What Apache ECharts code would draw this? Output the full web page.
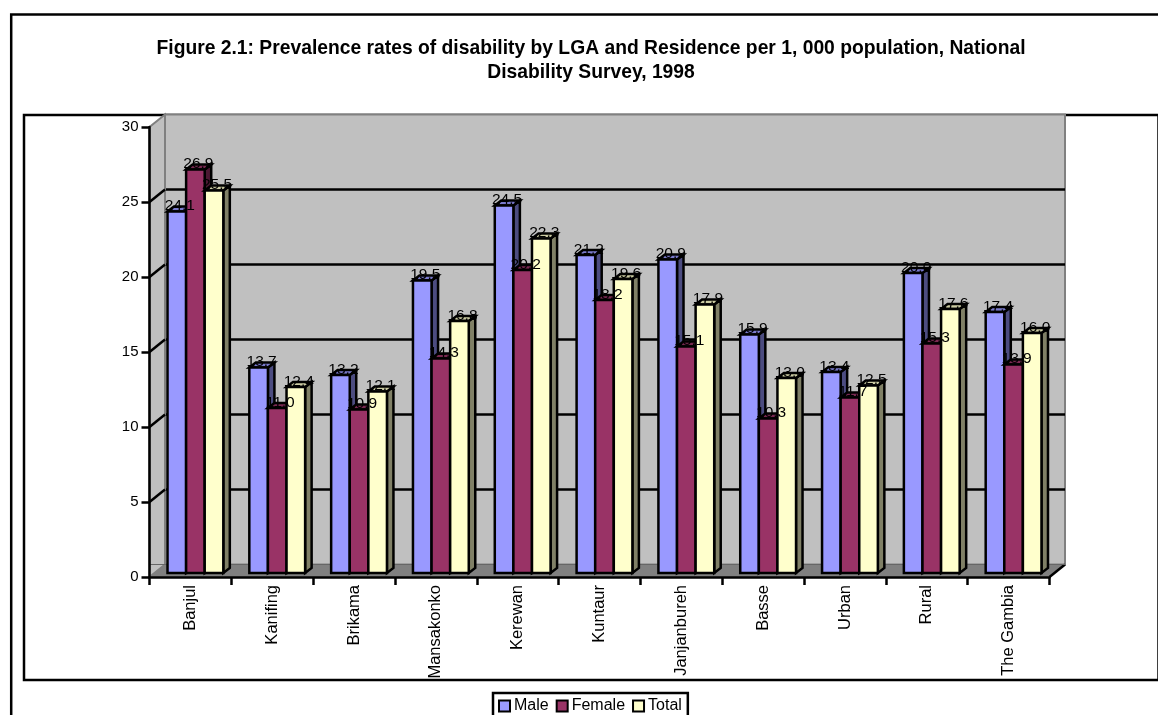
<!DOCTYPE html>
<html><head><meta charset="utf-8">
<style>html,body{margin:0;padding:0;background:#fff}#c{width:1158px;height:715px}</style>
<script src="https://cdn.jsdelivr.net/npm/echarts@6/dist/echarts.min.js"></script>
</head><body><div id="c"></div>
<script>
const categories = ['Banjul','Kanifing','Brikama','Mansakonko','Kerewan','Kuntaur','Janjanbureh','Basse','Urban','Rural','The Gambia'];
const maleValues = [24.1,13.7,13.2,19.5,24.5,21.2,20.9,15.9,13.4,20.0,17.4];
const femaleValues = [26.9,11.0,10.9,14.3,20.2,18.2,15.1,10.3,11.7,15.3,13.9];
const totalValues = [25.5,12.4,12.1,16.8,22.3,19.6,17.9,13.0,12.5,17.6,16.0];
const titleText = 'Figure 2.1: Prevalence rates of disability by LGA and Residence per 1, 000 population, National\nDisability Survey, 1998';
const font = '"Liberation Sans", Arial, sans-serif';

const chart = echarts.init(document.getElementById('c'), null, {renderer:'canvas'});
const DX = 15.5, DY = 12.5;   // wall offset
const BW = 18.6, BDX = 6.5, BDY = 5; // bar width, bar depth
function bar(name, values, idx, face, side, top){
  return {
    type:'custom', name, xAxisIndex:0, yAxisIndex:0, z:5,
    itemStyle:{color:face,borderColor:'#000',borderWidth:2.5},
    data:values.map((v,i)=>[i,v]),
    renderItem(params, api){
      const i = api.value(0), v = api.value(1);
      const p = api.coord([i,v]), b = api.coord([i,0]);
      const x0 = p[0] + 5 - BW*1.5 + idx*BW, x1 = x0 + BW;
      const yt = p[1]-4, yb = b[1]-4;
      const st = {stroke:'#000',lineWidth:2.5,lineJoin:'miter'};
      return {type:'group',children:[
        {type:'polygon',shape:{points:[[x1,yt],[x1+BDX,yt-BDY],[x1+BDX,yb-BDY],[x1,yb]]},style:{fill:side,...st}},
        {type:'polygon',shape:{points:[[x0,yt],[x0+BDX,yt-BDY],[x1+BDX,yt-BDY],[x1,yt]]},style:{fill:top,...st}},
        {type:'rect',shape:{x:x0,y:yt,width:BW,height:yb-yt},style:{fill:face,...st}},
        {type:'text',z2:100,style:{x:(x0+x1)/2+3,y:yt-BDY-0.5,text:v.toFixed(1),align:'center',verticalAlign:'middle',
          fill:'#000',font:'15.5px '+font}}
      ]};
    }
  };
}
const option = {
  animation:false,
  backgroundColor:'#fff',
  title:{text:titleText,left:586,top:32,textAlign:'center',
    textStyle:{fontFamily:font,fontWeight:'bold',fontSize:19.3,lineHeight:24,color:'#000'}},
  legend:{
    left:493, top:693, padding:[5,6,5,5], itemGap:7, itemWidth:11, itemHeight:11,
    borderColor:'#000', borderWidth:2.5, backgroundColor:'#fff',
    icon:'rect', data:['Male','Female','Total'],
    textStyle:{fontFamily:font,fontSize:16,color:'#000',padding:[0,0,0,-1]}
  },
  graphic:[
    {type:'rect',z:-10,silent:true,shape:{x:11.2,y:14.5,width:1160,height:720},style:{fill:'#fff',stroke:'#000',lineWidth:2.5}},
    {type:'rect',z:-9,silent:true,shape:{x:24,y:115,width:1134.5,height:565},style:{fill:'#fff',stroke:'#000',lineWidth:2.5}}
  ],
  grid:[
    {left:149.5,top:127,width:900,height:450,z:3},
    {left:149.5+DX,top:127-DY,width:900,height:450,show:true,backgroundColor:'#c0c0c0',borderColor:'#808080',borderWidth:2,z:-1}
  ],
  xAxis:[
    {type:'category',gridIndex:0,data:categories,z:6,
      axisLine:{lineStyle:{color:'#000',width:2.5}},
      axisTick:{show:true,alignWithLabel:false,length:8,lineStyle:{color:'#000',width:2.5}},
      axisLabel:{rotate:90,interval:0,margin:8,color:'#000',fontFamily:font,fontSize:16.5}},
    {type:'category',gridIndex:1,data:categories,axisLine:{show:false},axisTick:{show:false},axisLabel:{show:false}}
  ],
  yAxis:[
    {type:'value',gridIndex:0,min:0,max:30,interval:5,z:6,
      axisLine:{show:true,lineStyle:{color:'#000',width:2.5}},
      axisTick:{show:true,length:8,lineStyle:{color:'#000',width:2.5}},
      axisLabel:{margin:11,color:'#000',fontFamily:font,fontSize:15},
      splitLine:{show:false}},
    {type:'value',gridIndex:1,min:0,max:30,interval:5,
      axisLine:{show:false},axisTick:{show:false},axisLabel:{show:false},
      splitLine:{show:true,showMinLine:false,showMaxLine:false,lineStyle:{color:'#000',width:2.5,type:'solid'}}}
  ],
  series:[
    {type:'custom',xAxisIndex:0,yAxisIndex:0,z:2,silent:true,data:[[0]],tooltip:{show:false},
      renderItem(params,api){
        const size = api.size([1,0]);
        const fb = api.coord([0,0]), ft = api.coord([0,30]), fr = api.coord([categories.length-1,0]);
        const xl = fb[0]-size[0]/2, xr = fr[0]+size[0]/2, yb = fb[1], yt = ft[1];
        const ch = [
          {type:'polygon',shape:{points:[[xl,yb],[xl+DX,yb-DY],[xr+DX,yb-DY],[xr,yb]]},style:{fill:'#808080',stroke:'#808080',lineWidth:1}},
          {type:'polygon',shape:{points:[[xl,yb],[xl+DX,yb-DY],[xl+DX,yt-DY],[xl,yt]]},style:{fill:'#c0c0c0',stroke:'#808080',lineWidth:2}},
          {type:'line',shape:{x1:xr,y1:yb,x2:xr+DX,y2:yb-DY},style:{stroke:'#000',lineWidth:2.5}},
          {type:'line',shape:{x1:xl,y1:yb-DY,x2:xr+DX,y2:yb-DY},style:{stroke:'#666',lineWidth:1}}
        ];
        [5,10,15,20,25].forEach(t=>{
          const y = api.coord([0,t])[1];
          ch.push({type:'line',shape:{x1:xl,y1:y,x2:xl+DX,y2:y-DY},style:{stroke:'#000',lineWidth:2.5}});
        });
        return {type:'group',children:ch};
      }},
    bar('Male',maleValues,0,'#9999ff','#4c4c80','#7a7acc'),
    bar('Female',femaleValues,1,'#993366','#4c1933','#7a2952'),
    bar('Total',totalValues,2,'#ffffcc','#808066','#ccccA3')
  ]
};
chart.setOption(option);
</script></body></html>
